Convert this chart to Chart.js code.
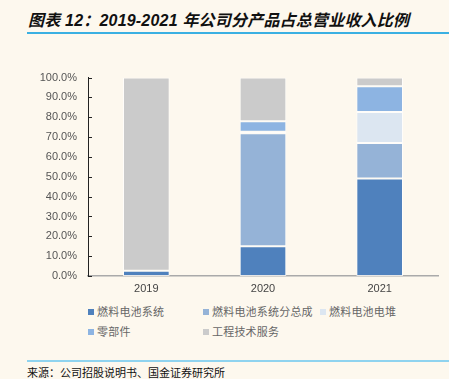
<!DOCTYPE html>
<html>
<head>
<meta charset="utf-8">
<script src="https://cdn.jsdelivr.net/npm/chart.js@4.4.0/dist/chart.umd.min.js"></script>
<style>
  html, body { margin: 0; padding: 0; background: #fdf8ee; }
  #page { position: relative; width: 449px; height: 379px; overflow: hidden; background: #fdf8ee; }
  #title {
    position: absolute; left: 28px; top: 7px;
    font: italic bold 16px "Liberation Sans", "Noto Sans CJK SC", sans-serif;
    color: #111; white-space: nowrap; letter-spacing: 0.2px;
  }
  .rule { position: absolute; left: 27px; right: 0; height: 2px; background: #3ab0e2; }
  #wrap { position: absolute; left: 0; top: 60px; width: 449px; height: 240px; }
  #legend { position: absolute; left: 0; top: 300px; width: 449px; height: 50px; }
  .item {
    position: absolute; white-space: nowrap;
    font: 11px "Noto Sans CJK SC", sans-serif; color: #666; letter-spacing: 0.2px;
  }
  .item i { display: inline-block; width: 6px; height: 6px; margin-right: 3px; vertical-align: 1px; }
  #source {
    position: absolute; left: 27px; top: 364px;
    font: 11px "Noto Sans CJK SC", sans-serif; color: #111; white-space: nowrap;
  }
</style>
</head>
<body>
<div id="page">
  <div id="title">图表 12：2019-2021 年公司分产品占总营业收入比例</div>
  <div class="rule" style="top:32px"></div>
  <div id="wrap"><canvas id="c" width="449" height="240"></canvas></div>
  <div id="legend"></div>
  <div class="rule" style="top:360px; background:#8fd3ef"></div>
  <div id="source">来源：公司招股说明书、国金证券研究所</div>
</div>
<script>
const years = ["2019", "2020", "2021"];
const seriesNames = ["燃料电池系统", "燃料电池系统分总成", "燃料电池电堆", "零部件", "工程技术服务"];
const fuelCellSystem = [2.6, 15.0, 49.2];
const subAssembly = [0, 56.9, 17.8];
const stack = [0, 0.8, 15.7];
const parts = [0, 5.3, 13.0];
const engineering = [97.4, 22.0, 4.3];
const seriesColors = ["#4f81bd", "#95b3d7", "#dce6f1", "#8db4e2", "#cbcbcb"];
const yTicks = [0, 10, 20, 30, 40, 50, 60, 70, 80, 90, 100];

const seriesValues = [fuelCellSystem, subAssembly, stack, parts, engineering];

// inward tick marks on the y axis, like the original
const innerTicks = {
  id: "innerTicks",
  afterDraw(chart) {
    const y = chart.scales.y;
    const ctx = chart.ctx;
    ctx.save();
    ctx.strokeStyle = "#222";
    ctx.lineWidth = 1;
    yTicks.forEach((v) => {
      const py = Math.round(y.getPixelForValue(v)) + 0.5;
      ctx.beginPath();
      ctx.moveTo(y.right, py);
      ctx.lineTo(y.right + 4, py);
      ctx.stroke();
    });
    ctx.restore();
  },
};

new Chart(document.getElementById("c"), {
  type: "bar",
  data: {
    labels: years,
    datasets: seriesNames.map((name, i) => ({
      label: name,
      data: seriesValues[i],
      backgroundColor: seriesColors[i],
      borderColor: "rgba(255,255,255,0.7)",
      borderWidth: 1,
      borderSkipped: false,
      categoryPercentage: 1,
      barPercentage: 0.4,
    })),
  },
  options: {
    responsive: false,
    animation: false,
    layout: { padding: { left: 0, right: 11, top: 9, bottom: 0 } },
    plugins: { legend: { display: false }, tooltip: { enabled: false } },
    scales: {
      x: {
        stacked: true,
        grid: { display: false, drawTicks: false },
        border: { color: "#aaa", width: 1.5 },
        ticks: { color: "#444", font: { family: "Liberation Sans", size: 11 }, padding: 6 },
        afterFit(s) { s.height = 24; },
      },
      y: {
        stacked: true,
        min: 0,
        max: 100,
        afterBuildTicks(s) { s.ticks = yTicks.map((v) => ({ value: v })); },
        grid: { display: false, drawTicks: false },
        border: { color: "#222", width: 1 },
        ticks: {
          color: "#555",
          font: { family: "Liberation Sans", size: 11 },
          padding: 11,
          callback: (v) => v.toFixed(1) + "%",
        },
        afterFit(s) { s.width = 88; },
      },
    },
  },
  plugins: [innerTicks],
});

// legend built from the same series arrays
const legendPos = [[88, 3], [203, 3], [320, 3], [88, 23], [203, 23]];
const legendEl = document.getElementById("legend");
seriesNames.forEach((name, i) => {
  const d = document.createElement("div");
  d.className = "item";
  d.style.left = legendPos[i][0] + "px";
  d.style.top = legendPos[i][1] + "px";
  d.innerHTML = '<i style="background:' + seriesColors[i] + '"></i>' + name;
  legendEl.appendChild(d);
});
</script>
</body>
</html>
